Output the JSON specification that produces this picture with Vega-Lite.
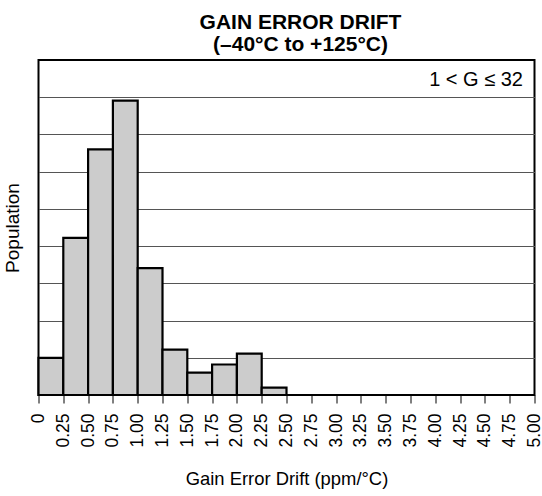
{
  "$schema": "https://vega.github.io/schema/vega-lite/v6.json",
  "autosize": "none",
  "width": 496,
  "height": 335,
  "padding": {"left": 38.5, "top": 60, "right": 7.5, "bottom": 101},
  "background": "white",
  "title": {
    "text": ["GAIN ERROR DRIFT", "(–40°C to +125°C)"],
    "font": "Liberation Sans",
    "fontSize": 21,
    "fontWeight": "bold",
    "color": "black",
    "anchor": "middle",
    "dx": 14,
    "offset": 5,
    "lineHeight": 22
  },
  "config": {
    "view": {"stroke": "black", "strokeWidth": 2},
    "font": "Liberation Sans"
  },
  "data": {
    "values": [
      {"start": 0.0, "end": 0.25, "pop": 1.0},
      {"start": 0.25, "end": 0.5, "pop": 4.22},
      {"start": 0.5, "end": 0.75, "pop": 6.6},
      {"start": 0.75, "end": 1.0, "pop": 7.91},
      {"start": 1.0, "end": 1.25, "pop": 3.41},
      {"start": 1.25, "end": 1.5, "pop": 1.22},
      {"start": 1.5, "end": 1.75, "pop": 0.6},
      {"start": 1.75, "end": 2.0, "pop": 0.82},
      {"start": 2.0, "end": 2.25, "pop": 1.11},
      {"start": 2.25, "end": 2.5, "pop": 0.2}
    ]
  },
  "layer": [
    {
      "mark": {"type": "bar", "fill": "#cccccc", "stroke": "black", "strokeWidth": 2.2},
      "encoding": {
        "x": {
          "field": "start", "type": "quantitative",
          "scale": {"domain": [0, 5], "nice": false, "zero": false},
          "axis": {
            "values": [0, 0.25, 0.5, 0.75, 1, 1.25, 1.5, 1.75, 2, 2.25, 2.5, 2.75, 3, 3.25, 3.5, 3.75, 4, 4.25, 4.5, 4.75, 5],
            "labelExpr": "datum.value == 0 ? '0' : format(datum.value, '.2f')",
            "labelAngle": 270,
            "labelFontSize": 17.5,
            "labelColor": "black",
            "labelPadding": 10,
            "labelFont": "Liberation Sans",
            "tickSize": 8,
            "tickColor": "black",
            "tickWidth": 1,
            "domain": false,
            "grid": false,
            "title": "Gain Error Drift (ppm/°C)",
            "titleFontSize": 18.4,
            "titleFontWeight": "normal",
            "titleColor": "black",
            "titlePadding": 22,
            "labelFlush": false,
            "labelOverlap": false,
            "labelBound": false
          }
        },
        "x2": {"field": "end"},
        "y": {
          "field": "pop", "type": "quantitative",
          "scale": {"domain": [0, 9], "nice": false},
          "axis": {
            "values": [1, 2, 3, 4, 5, 6, 7, 8],
            "labels": false,
            "ticks": false,
            "domain": false,
            "grid": true,
            "gridColor": "#555555",
            "gridWidth": 1,
            "gridOpacity": 1,
            "title": "Population",
            "titleFontSize": 19,
            "titleFontWeight": "normal",
            "titleColor": "black",
            "titlePadding": 16
          }
        },
        "y2": {"datum": 0}
      }
    },
    {
      "data": {"values": [{"x": 5, "y": 9, "label": "1 < G ≤ 32"}]},
      "mark": {"type": "text", "align": "right", "baseline": "top", "dx": -11.5, "dy": 10, "fontSize": 20, "color": "black"},
      "encoding": {
        "x": {
          "field": "x", "type": "quantitative",
          "axis": {
            "values": [0, 0.25, 0.5, 0.75, 1, 1.25, 1.5, 1.75, 2, 2.25, 2.5, 2.75, 3, 3.25, 3.5, 3.75, 4, 4.25, 4.5, 4.75, 5],
            "labelExpr": "datum.value == 0 ? '0' : format(datum.value, '.2f')",
            "labelAngle": 270,
            "labelFontSize": 17.5,
            "labelColor": "black",
            "labelPadding": 10,
            "labelFont": "Liberation Sans",
            "tickSize": 8,
            "tickColor": "black",
            "tickWidth": 1,
            "domain": false,
            "grid": false,
            "title": "Gain Error Drift (ppm/°C)",
            "titleFontSize": 18.4,
            "titleFontWeight": "normal",
            "titleColor": "black",
            "titlePadding": 22,
            "labelFlush": false,
            "labelOverlap": false,
            "labelBound": false
          }
        },
        "y": {
          "field": "y", "type": "quantitative",
          "axis": {
            "values": [1, 2, 3, 4, 5, 6, 7, 8],
            "labels": false,
            "ticks": false,
            "domain": false,
            "grid": true,
            "gridColor": "#555555",
            "gridWidth": 1,
            "gridOpacity": 1,
            "title": "Population",
            "titleFontSize": 19,
            "titleFontWeight": "normal",
            "titleColor": "black",
            "titlePadding": 16
          }
        },
        "text": {"field": "label"}
      }
    }
  ]
}
